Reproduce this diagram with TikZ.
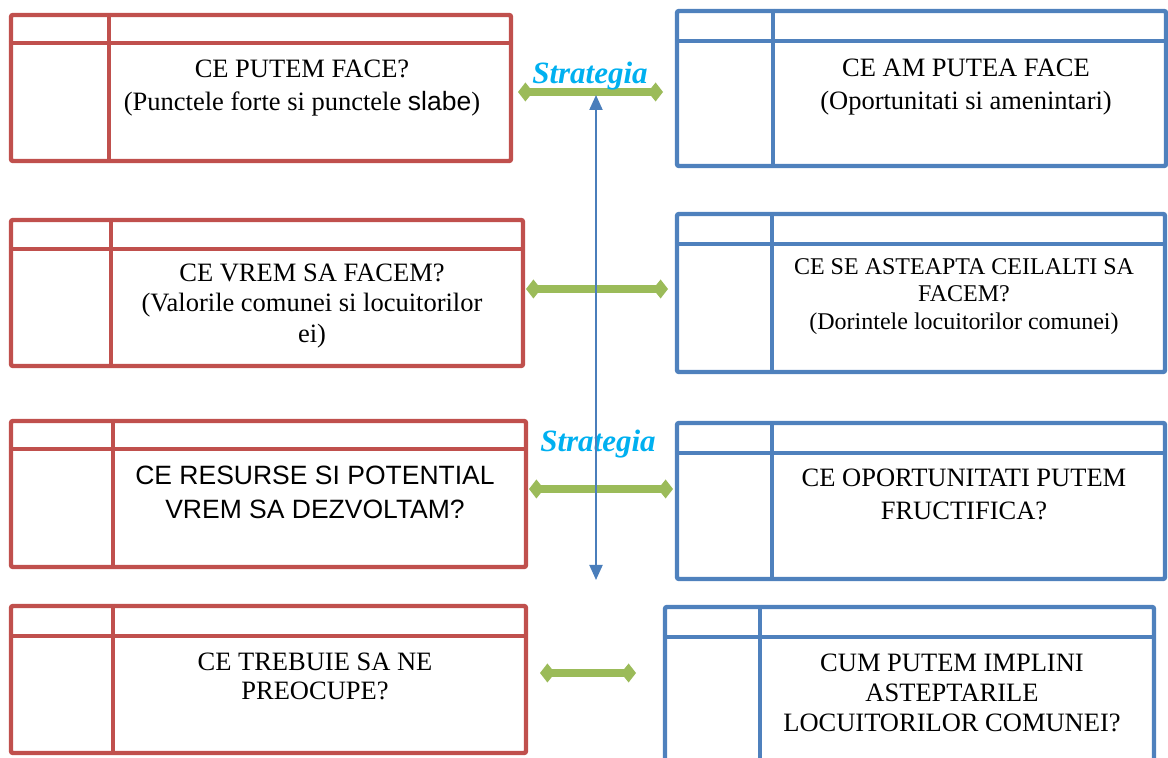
\documentclass[tikz,border=0pt]{standalone}
\usepackage{fontspec}
\setmainfont{Liberation Serif}
\newfontfamily\arialf{Liberation Sans}
\usetikzlibrary{arrows.meta,fit,calc}
\definecolor{boxred}{HTML}{C0504D}
\definecolor{boxblue}{HTML}{4F81BD}
\definecolor{arrgreen}{HTML}{9BBB59}
\definecolor{stratcyan}{HTML}{00B0F0}
\definecolor{axisblue}{HTML}{4A7EBB}
\newcommand{\swotbox}[6]{%
  \node[frame=#1, fit={(#3) (#4)}] (#2) {};
  \draw[rule=#1] (#2.west |- 0,#5) -- (#2.east |- 0,#5);
  \draw[rule=#1] (#2.north -| #6,0) -- (#2.south -| #6,0);
}
\begin{document}
\begin{tikzpicture}[x=0.5pt,y=-0.5pt,
  frame/.style={draw=#1, line width=2.2pt, rounded corners=1pt, inner sep=0pt},
  rule/.style={draw=#1, line width=2.2pt},
  txt/.style={align=center, inner sep=0pt, text=black},
  big/.style={font=\fontsize{13.25}{#1}\selectfont},
  strat/.style={text=stratcyan, font=\fontsize{15.5}{18}\selectfont\bfseries\itshape, inner sep=0pt},
  greenarrow/.style={draw=arrgreen, line width=3.8pt, {Kite[length=7.5pt,width=9.5pt,inset=3.8pt]}-{Kite[length=7.5pt,width=9.5pt,inset=3.8pt]}},
  axisarrow/.style={draw=axisblue, line width=1pt, {Triangle[width=6.5pt,length=7.5pt]}-{Triangle[width=6.5pt,length=7.5pt]}}
]
\useasboundingbox (0,0) rectangle (1168,758);

% left (red) boxes
\swotbox{boxred}{r1}{11,15}{511,161}{43}{109}
\swotbox{boxred}{r2}{11,220}{523,366}{249}{111}
\swotbox{boxred}{r3}{11,421}{526,567}{449}{113}
\swotbox{boxred}{r4}{11,606}{526,753}{636}{113}
% right (blue) boxes
\swotbox{boxblue}{b1}{677,11}{1166,166}{41}{773}
\swotbox{boxblue}{b2}{677,214}{1165,372}{244}{772}
\swotbox{boxblue}{b3}{677,423}{1165,579}{453}{772}
\swotbox{boxblue}{b4}{665,607}{1154,780}{637}{760}

% texts
\node[txt, big=16.5pt] (r1t) at (302,88.5) {CE PUTEM FACE?\\(Punctele forte si punctele {\arialf slabe})};
\node[txt, big=15.25pt] (r2t) at (312,306) {CE VREM SA FACEM?\\(Valorile comunei si locuitorilor\\ei)};
\node[txt, font=\arialf\fontsize{13.25}{17}\selectfont] (r3t) at (315,492.5) {CE RESURSE SI POTENTIAL\\VREM SA DEZVOLTAM?};
\node[txt, big=14.5pt] (r4t) at (315,676.5) {CE TREBUIE SA NE\\PREOCUPE?};
\node[txt, big=16.5pt] (b1t) at (966,87) {CE AM PUTEA FACE\\(Oportunitati si amenintari)};
\node[txt, font=\fontsize{12}{13.75}\selectfont] (b2t) at (964,296.5) {CE SE ASTEAPTA CEILALTI SA\\FACEM?\\(Dorintele locuitorilor comunei)};
\node[txt, big=16.5pt] (b3t) at (964,494) {CE OPORTUNITATI PUTEM\\FRUCTIFICA?};
\node[txt, big=15pt] (b4t) at (952,693) {CUM PUTEM IMPLINI\\ASTEPTARILE\\LOCUITORILOR COMUNEI?};

% green connectors
\coordinate (g1a) at (518,92);  \coordinate (g1b) at (663,92);
\coordinate (g2a) at (526,289); \coordinate (g2b) at (668,289);
\coordinate (g3a) at (529,489); \coordinate (g3b) at (673,489);
\coordinate (g4a) at (540,673); \coordinate (g4b) at (636,673);
\draw[greenarrow] (g1a) -- (g1b);
\draw[greenarrow] (g2a) -- (g2b);
\draw[greenarrow] (g3a) -- (g3b);
\draw[greenarrow] (g4a) -- (g4b);

% Strategia labels
\node[strat] (s1) at (590,76) {Strategia};
\node[strat] (s2) at (598,444) {Strategia};

% vertical axis
\coordinate (axtop) at (596,95);
\coordinate (axbot) at (596,580);
\draw[axisarrow] (axtop) -- (axbot);
\end{tikzpicture}
\end{document}
